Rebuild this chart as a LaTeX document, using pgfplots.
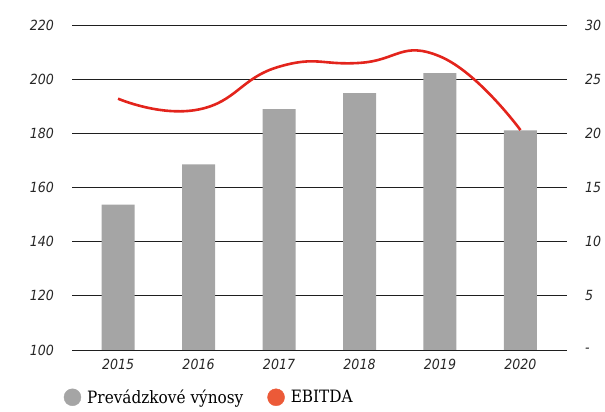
\documentclass[border=0pt]{standalone}
\usepackage{pgfplots}
\pgfplotsset{compat=1.18}
\usepackage{fontspec}
\setmainfont{DejaVu Serif}[FakeStretch=0.9]
\newfontfamily\tickfont{DejaVu Sans}[FakeStretch=0.9]
\definecolor{barc}{HTML}{A5A5A5}
\definecolor{linec}{HTML}{E3241C}
\definecolor{legc}{HTML}{EC5A38}
\begin{document}
\begin{tikzpicture}[x=1pt,y=1pt]
\useasboundingbox (0,0) rectangle (605,412);
\begin{axis}[
  at={(72pt,62pt)}, anchor=south west,
  scale only axis, width=495pt, height=325pt,
  xmin=-0.572, xmax=5.578,
  ymin=100, ymax=220, ytick={100,120,...,220},
  xtick={0,...,5}, xticklabels={2015,2016,2017,2018,2019,2020},
  axis line style={draw=none},
  major tick length=0pt,
  ymajorgrids, major grid style={draw=black!88, line width=0.9pt},
  /pgf/number format/assume math mode=true,
  ticklabel style={font=\tickfont\itshape\fontsize{14}{14}\selectfont, text=black!85},
  yticklabel style={xshift=-14.5pt},
  xticklabel style={yshift=-6pt},
  legend style={at={(axis description cs:-0.0166,-0.1455)}, anchor=west,
    draw=none, fill=none, inner sep=0pt, outer sep=0pt,
    font=\fontsize{17}{17}\selectfont,
    nodes={inner sep=0pt},
    /tikz/every odd column/.append style={column sep=6pt},
    /tikz/every even column/.append style={column sep=24pt}},
  legend columns=2,
]
\addplot[ybar, bar width=33pt, fill=barc, draw=none, forget plot]
  coordinates {(0,153.7)(1,168.5)(2,188.9)(3,194.8)(4,202.2)(5,181.1)};
\addlegendimage{legend image code/.code={\fill[barc] (0pt,0pt) circle (8.5pt);}}
\addlegendentry{Prevádzkové výnosy}
\addlegendimage{legend image code/.code={\fill[legc] (0pt,0pt) circle (8.5pt);}}
\addlegendentry{EBITDA}
\end{axis}
\begin{axis}[
  at={(72pt,62pt)}, anchor=south west,
  scale only axis, width=495pt, height=325pt,
  xmin=-0.572, xmax=5.578,
  ymin=0, ymax=30, ytick={0,5,...,30}, yticklabels={-,5,10,15,20,25,30},
  yticklabel pos=right,
  xtick=\empty,
  axis line style={draw=none},
  major tick length=0pt,
  /pgf/number format/assume math mode=true,
  ticklabel style={font=\tickfont\itshape\fontsize{14}{14}\selectfont, text=black!85},
  yticklabel style={xshift=14.5pt},
]
\addplot[smooth, tension=0.85, linec, line width=2.6pt]
  coordinates {(0,23.2)(1,22.2)(2,26.15)(3,26.5)(4,27.1)(5,20.3)};
\end{axis}
\end{tikzpicture}
\end{document}
